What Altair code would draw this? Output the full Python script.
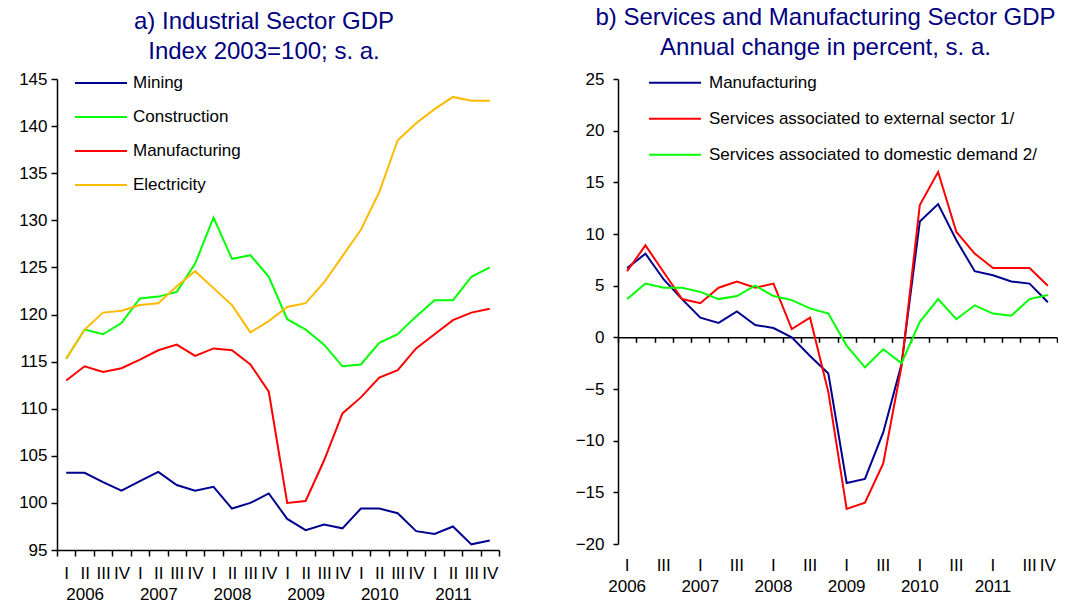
import altair as alt
import pandas as pd

years = ["2006", "2007", "2008", "2009", "2010", "2011"]
quarters = ["I", "II", "III", "IV"]
periods = [f"{y} {q}" for y in years for q in quarters]

# Panel a) Industrial Sector GDP, index 2003=100
series_a = ["Mining", "Construction", "Manufacturing", "Electricity"]
colors_a = ["#000090", "#00FF00", "#FF0000", "#FFBA00"]
mining = [103.2, 103.2, 102.2, 101.3, 102.3, 103.3, 101.9, 101.3, 101.7, 99.4, 100.0, 101.0,
          98.3, 97.1, 97.7, 97.3, 99.4, 99.4, 98.9, 97.0, 96.7, 97.5, 95.6, 96.0]
construction = [115.3, 118.4, 117.9, 119.1, 121.7, 121.9, 122.4, 125.4, 130.3, 125.9, 126.3, 124.0,
                119.5, 118.4, 116.8, 114.5, 114.7, 117.0, 117.9, 119.8, 121.5, 121.5, 124.0, 125.0]
manufacturing_a = [113.0, 114.5, 113.9, 114.3, 115.2, 116.2, 116.8, 115.6, 116.4, 116.2, 114.7, 111.8,
                   100.0, 100.2, 104.5, 109.5, 111.2, 113.3, 114.1, 116.4, 117.9, 119.4, 120.2, 120.6]
electricity = [115.3, 118.4, 120.2, 120.4, 121.0, 121.2, 123.0, 124.6, 122.8, 121.0, 118.1, 119.3,
               120.8, 121.2, 123.4, 126.2, 129.0, 133.0, 138.5, 140.3, 141.8, 143.1, 142.7, 142.7]

# Panel b) Services and Manufacturing Sector GDP, annual change in percent
series_b = ["Manufacturing", "Services associated to external sector 1/",
            "Services associated to domestic demand 2/"]
colors_b = ["#000090", "#FF0000", "#00FF00"]
manufacturing_b = [6.7, 8.1, 5.6, 3.7, 1.9, 1.4, 2.5, 1.2, 0.9, 0.0, -1.8, -3.5,
                   -14.1, -13.7, -9.2, -2.6, 11.2, 12.9, 9.4, 6.4, 6.0, 5.4, 5.2, 3.4]
services_ext = [6.4, 8.9, 6.3, 3.7, 3.3, 4.8, 5.4, 4.8, 5.2, 0.8, 1.9, -5.3,
                -16.6, -16.0, -12.2, -2.8, 12.8, 16.0, 10.2, 8.1, 6.7, 6.7, 6.7, 5.0]
services_dom = [3.7, 5.2, 4.8, 4.8, 4.4, 3.7, 4.0, 5.0, 4.0, 3.6, 2.8, 2.3,
                -0.8, -2.9, -1.15, -2.5, 1.5, 3.7, 1.75, 3.1, 2.3, 2.1, 3.7, 4.1]

FONT = "Liberation Sans"
TITLE_COLOR = "#000080"
LABEL_SIZE = 17


def long_frame(names, value_lists):
    rows = []
    for name, vals in zip(names, value_lists):
        for p, v in zip(periods, vals):
            rows.append({"period": p, "series": name, "value": v})
    return pd.DataFrame(rows)


df_a = long_frame(series_a, [mining, construction, manufacturing_a, electricity])
df_b = long_frame(series_b, [manufacturing_b, services_ext, services_dom])

band = alt.Scale(type="band", domain=periods, paddingInner=0, paddingOuter=0)


def legend(x, y, offset, row_h):
    return alt.Legend(orient="none", legendX=x, legendY=y, title=None,
                      symbolType="stroke", symbolSize=2704, symbolStrokeWidth=2,
                      labelFont=FONT, labelFontSize=LABEL_SIZE, labelColor="black",
                      labelLimit=500, clipHeight=row_h, rowPadding=0, padding=0,
                      labelOffset=offset)


def axis_lines(**kw):
    base = dict(title=None, domain=True, ticks=True, domainColor="black", tickColor="black",
                domainOpacity=1, tickOpacity=1, domainWidth=1.5, tickWidth=1.5,
                labelFont=FONT, labelFontSize=LABEL_SIZE, labelColor="black", grid=False)
    base.update(kw)
    return alt.Axis(**base)


# ---- panel a
W_A, H_A = 442, 471
label_a = ("[split(datum.value,' ')[1], split(datum.value,' ')[1]=='II' ? "
           "split(datum.value,' ')[0] : '']")
left = alt.Chart(df_a).mark_line(strokeWidth=2).encode(
    x=alt.X("period:N", scale=band, bandPosition=0.5,
            axis=axis_lines(labelExpr=label_a, labelAngle=0, tickBand="extent",
                            tickSize=6, labelPadding=9, labelLineHeight=21,
                            labelOverlap=False, labelBaseline="top", orient="bottom")),
    y=alt.Y("value:Q", scale=alt.Scale(domain=[95, 145], nice=False, zero=False),
            axis=axis_lines(values=list(range(95, 146, 5)), tickSize=6, labelPadding=4)),
    color=alt.Color("series:N", scale=alt.Scale(domain=series_a, range=colors_a),
                    legend=legend(17, -13, 5, 34)),
).properties(
    width=W_A, height=H_A,
    title=alt.TitleParams(["a) Industrial Sector GDP", "Index 2003=100; s. a."],
                          anchor="middle", frame="group", dx=-14, offset=2),
)

# ---- panel b
W_B, H_B = 439, 465
Y_MIN, Y_MAX = -20, 25
zero_offset = -H_B * (0 - Y_MIN) / (Y_MAX - Y_MIN)
label_b = ("[(split(datum.value,' ')[1]=='I' || split(datum.value,' ')[1]=='III' || "
           "datum.value=='2011 IV') ? split(datum.value,' ')[1] : '', "
           "split(datum.value,' ')[1]=='I' ? split(datum.value,' ')[0] : '']")

lines_b = alt.Chart(df_b).mark_line(strokeWidth=2).encode(
    x=alt.X("period:N", scale=band, bandPosition=0.5,
            axis=axis_lines(labels=False, tickBand="extent", tickSize=5,
                            offset=zero_offset, orient="bottom")),
    y=alt.Y("value:Q", scale=alt.Scale(domain=[Y_MIN, Y_MAX], nice=False, zero=False),
            axis=axis_lines(values=list(range(Y_MIN, Y_MAX + 1, 5)), tickSize=5,
                            labelPadding=9)),
    color=alt.Color("series:N", scale=alt.Scale(domain=series_b, range=colors_b),
                    legend=legend(30, -14, 7, 35.5)),
)
labels_b = alt.Chart(df_b).mark_point(opacity=0).encode(
    x=alt.X("period:N", scale=band, bandPosition=0.5,
            axis=alt.Axis(title=None, orient="bottom", domain=False, ticks=False, tickSize=0,
                          labelExpr=label_b, labelAngle=0, labelPadding=13,
                          labelLineHeight=21, labelOverlap=False, labelBaseline="top",
                          labelFont=FONT, labelFontSize=LABEL_SIZE, labelColor="black")),
)
right = alt.layer(lines_b, labels_b).resolve_axis(x="independent").properties(
    width=W_B, height=H_B,
    title=alt.TitleParams(["b) Services and Manufacturing Sector GDP",
                           "Annual change in percent, s. a."],
                          anchor="middle", frame="group", dx=-12, offset=5),
)

chart = alt.hconcat(left, right, spacing=75).resolve_scale(color="independent").properties(
    padding={"left": 18, "top": 6, "right": 0, "bottom": 0},
).configure(
    font=FONT,
).configure_view(
    stroke=None,
).configure_title(
    font=FONT, fontSize=24, fontWeight="normal", color=TITLE_COLOR, lineHeight=30,
)

chart.save("out.html", embed_options={"renderer": "svg", "actions": False})
